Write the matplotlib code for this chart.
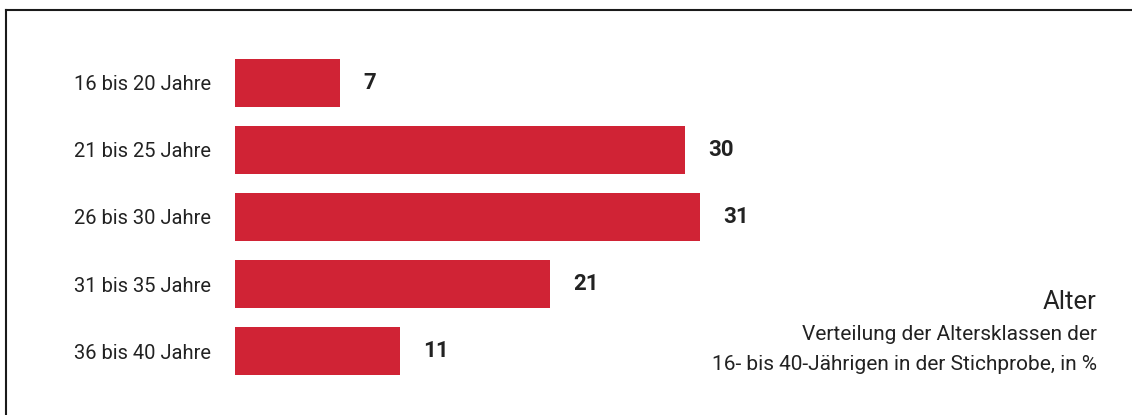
import matplotlib.pyplot as plt
from matplotlib.lines import Line2D

categories = ['16 bis 20 Jahre', '21 bis 25 Jahre', '26 bis 30 Jahre', '31 bis 35 Jahre', '36 bis 40 Jahre']
values = [7, 30, 31, 21, 11]
title = 'Alter'
subtitle = ['Verteilung der Altersklassen der', '16- bis 40-Jährigen in der Stichprobe, in %']

plt.rcParams['font.family'] = ['Roboto', 'DejaVu Sans']
red = '#d02335'
ink = '#222222'

W, H = 1132, 415
fig = plt.figure(figsize=(W / 100, H / 100), dpi=100)

# axes placed in pixels: 15 px per percent, 67 px per row
left, right = 235, 1100
top, bottom = 49.5, 384.5
ax = fig.add_axes([left / W, 1 - bottom / H, (right - left) / W, (bottom - top) / H])
ax.set_xlim(0, (right - left) / 15)
ax.set_ylim(len(values) - 0.5, -0.5)

pos = range(len(values))
ax.barh(pos, values, height=48 / 67, color=red)
for y, v in zip(pos, values):
    ax.annotate(str(v), (v, y), xytext=(17, 0), textcoords='offset points',
                va='center', ha='left', fontsize=16, fontweight='bold', color=ink)

ax.set_yticks(list(pos))
ax.set_yticklabels(categories, fontsize=14.5, color=ink)
ax.tick_params(axis='y', length=0, pad=17)
ax.set_xticks([])
for s in ax.spines.values():
    s.set_visible(False)

fig.text(1097 / W, 1 - 309 / H, title, ha='right', va='baseline', fontsize=18.5, color=ink)
fig.text(1097 / W, 1 - 340 / H, subtitle[0], ha='right', va='baseline', fontsize=15, color=ink)
fig.text(1097 / W, 1 - 370 / H, subtitle[1], ha='right', va='baseline', fontsize=15, color=ink)

# frame: top and left rules
fig.add_artist(Line2D([6 / W, 1], [1 - 10 / H, 1 - 10 / H], color='#1a1a1a', lw=1.5))
fig.add_artist(Line2D([6 / W, 6 / W], [0, 1 - 10 / H], color='#1a1a1a', lw=1.5))

fig.savefig('out.png', dpi=100)
